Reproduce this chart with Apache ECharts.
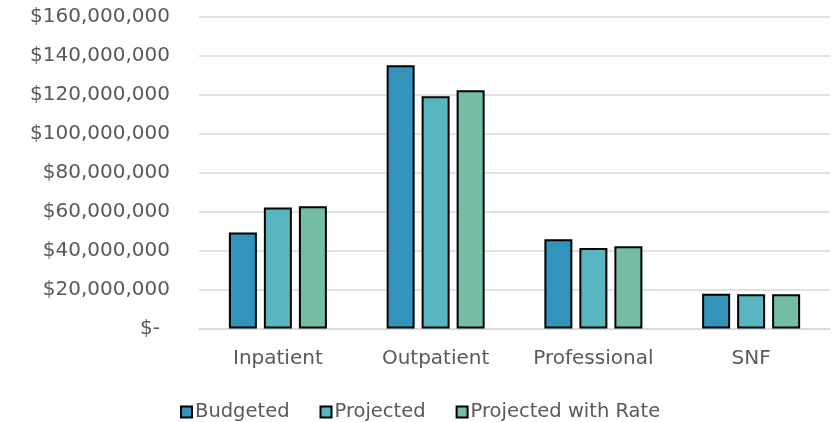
<!DOCTYPE html>
<html>
<head>
<meta charset="utf-8">
<script src="https://cdn.jsdelivr.net/npm/echarts@6/dist/echarts.min.js"></script>
<style>
  html, body { margin: 0; padding: 0; background: #fff; }
  #chart { width: 835px; height: 422px; }
</style>
</head>
<body>
<div id="chart"></div>
<script>
// Spending by service line
const categories = ['Inpatient', 'Outpatient', 'Professional', 'SNF'];
const budgeted = [49300000, 135200000, 45800000, 17900000];
const projected = [62200000, 119300000, 41400000, 17600000];
const projectedWithRate = [62800000, 122400000, 42200000, 17600000];
const seriesNames = ['Budgeted', 'Projected', 'Projected with Rate'];
const seriesColors = ['#3493BA', '#58B6C0', '#75BDA7'];

const FONT = 'DejaVu Sans';
const TEXT = '#595959';
const SIZE = 20;

function money(v) {
  if (v === 0) return '{dash|$-}';
  return '$' + v.toLocaleString('en-US');
}

const chart = echarts.init(document.getElementById('chart'), null, { renderer: 'canvas' });

const values = [budgeted, projected, projectedWithRate];

chart.setOption({
  animation: false,
  backgroundColor: '#ffffff',
  textStyle: { fontFamily: FONT, color: TEXT },
  grid: { left: 199, right: 5, top: 17, bottom: 93.5, containLabel: false },
  legend: {
    top: 397,
    left: 175,
    itemWidth: 11,
    itemHeight: 11,
    itemGap: 30,
    icon: 'rect',
    textStyle: { fontFamily: FONT, fontSize: 19.5, color: TEXT, padding: [0, 0, 0, -2] },
    data: seriesNames
  },
  xAxis: {
    type: 'category',
    data: categories,
    axisLine: { show: true, lineStyle: { color: '#d9d9d9', width: 1.5 } },
    axisTick: { show: false },
    axisLabel: { fontFamily: FONT, fontSize: SIZE, color: TEXT, margin: 20 }
  },
  yAxis: {
    type: 'value',
    min: 0,
    max: 160000000,
    interval: 20000000,
    axisLine: { show: false },
    axisTick: { show: false },
    splitLine: { lineStyle: { color: '#d9d9d9', width: 1.5 } },
    axisLabel: {
      fontFamily: FONT, fontSize: SIZE, color: TEXT, margin: 29,
      formatter: money,
      rich: { dash: { fontFamily: FONT, fontSize: SIZE, color: TEXT, padding: [0, 10, 0, 0] } }
    }
  },
  series: seriesNames.map((name, i) => ({
    name: name,
    type: 'bar',
    data: values[i],
    barWidth: 28,
    barGap: '25%',
    itemStyle: { color: seriesColors[i], borderColor: '#000000', borderWidth: 2 }
  }))
});
</script>
</body>
</html>
